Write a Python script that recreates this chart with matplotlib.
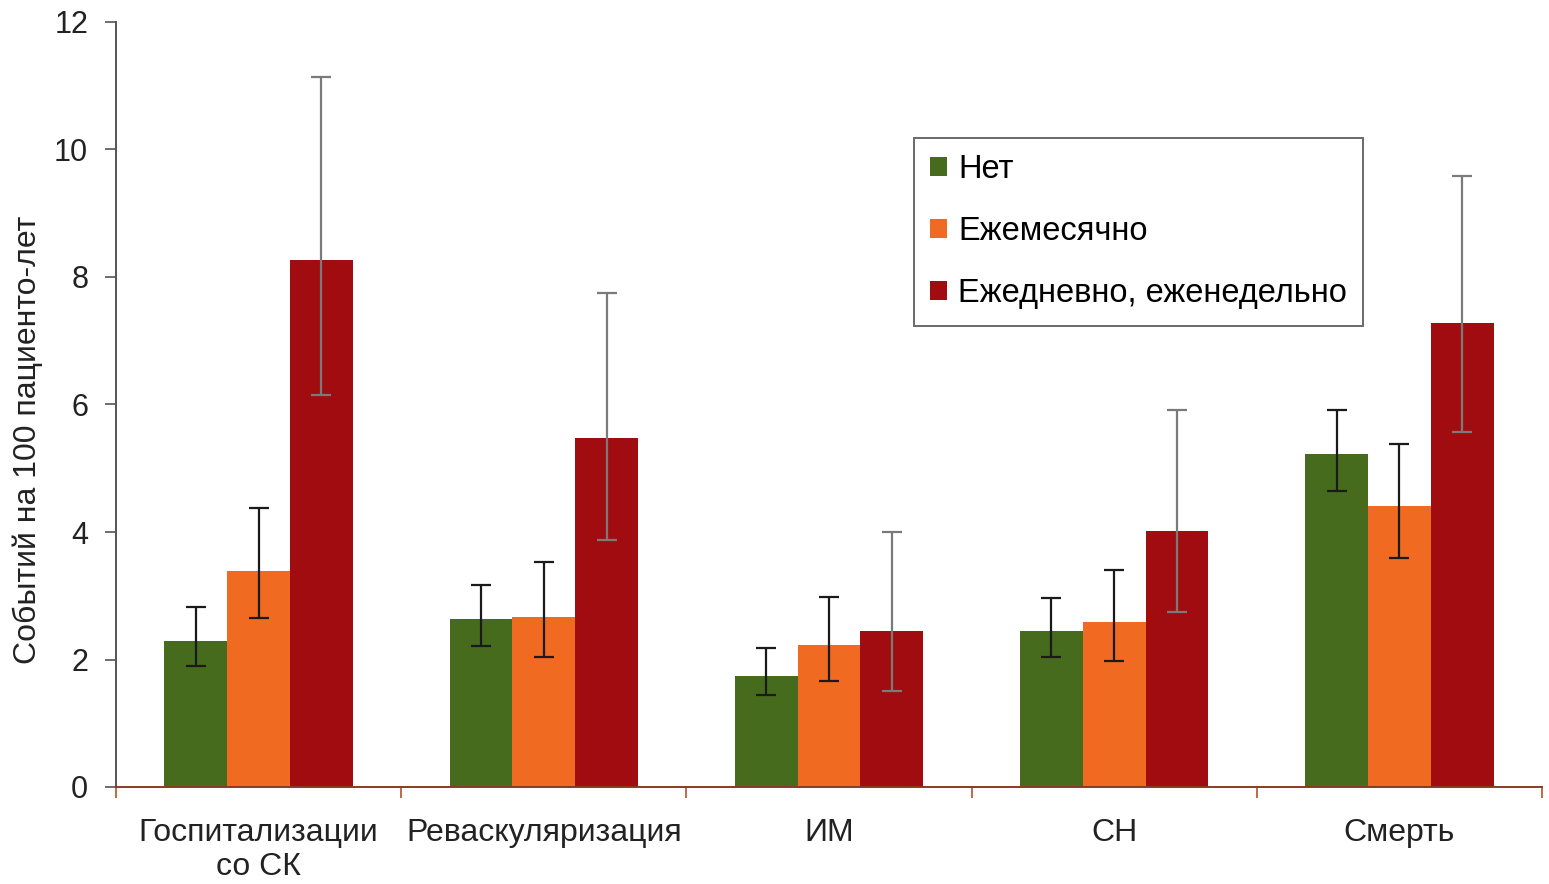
import matplotlib
matplotlib.use("Agg")
import matplotlib.pyplot as plt
import numpy as np

plt.rcParams['font.family'] = ['Liberation Sans', 'DejaVu Sans']

categories = ["Госпитализации\nсо СК", "Реваскуляризация", "ИМ", "СН", "Смерть"]
series_names = ["Нет", "Ежемесячно", "Ежедневно, еженедельно"]

net = [2.29, 2.64, 1.74, 2.45, 5.22]
net_lo = [1.90, 2.21, 1.44, 2.04, 4.64]
net_hi = [2.82, 3.17, 2.18, 2.96, 5.92]

month = [3.39, 2.67, 2.23, 2.59, 4.41]
month_lo = [2.65, 2.04, 1.66, 1.97, 3.60]
month_hi = [4.38, 3.53, 2.98, 3.40, 5.38]

daily = [8.27, 5.47, 2.45, 4.02, 7.28]
daily_lo = [6.15, 3.87, 1.51, 2.75, 5.57]
daily_hi = [11.14, 7.75, 4.00, 5.91, 9.58]

yticks = [0, 2, 4, 6, 8, 10, 12]
ylabel = "Событий на 100 пациенто-лет"

colors = ["#466b1c", "#f06a22", "#a00c10"]
err_colors = ["#1a1a1a", "#1a1a1a", "#7a7a7a"]

fig = plt.figure(figsize=(15.49, 8.84), dpi=100)
ax = fig.add_axes([116/1549, 1-787/884, (1542-116)/1549, 765/884])

x = np.arange(len(categories))
w = 0.22
vals = [net, month, daily]
los = [net_lo, month_lo, daily_lo]
his = [net_hi, month_hi, daily_hi]
for i, (v, lo, hi) in enumerate(zip(vals, los, his)):
    v = np.array(v); lo = np.array(lo); hi = np.array(hi)
    pos = x + (i - 1) * w
    ax.bar(pos, v, width=w, color=colors[i], label=series_names[i], zorder=2)
    ax.errorbar(pos, v, yerr=[v - lo, hi - v], fmt='none', ecolor=err_colors[i],
                elinewidth=1.6, capsize=7, capthick=1.6, zorder=3)

ax.set_xlim(-0.5, len(categories) - 0.5)
ax.set_ylim(0, 12)
ax.set_yticks(yticks)
ax.set_yticklabels([str(t) for t in yticks])
ax.tick_params(axis='y', direction='out', length=8, width=1.2, color='#555555',
               labelsize=22, pad=12, labelcolor='#222222')

ax.set_xticks(np.arange(len(categories) + 1) - 0.5)
ax.set_xticklabels([])
ax.tick_params(axis='x', which='major', direction='out', length=8, width=1.2, color='#b5502a')
ax.set_xticks(x, minor=True)
ax.set_xticklabels(categories, minor=True, fontsize=23, color='#222222')
ax.tick_params(axis='x', which='minor', length=0, pad=22)

for s in ['top', 'right']:
    ax.spines[s].set_visible(False)
ax.spines['left'].set_color('#555555')
ax.spines['left'].set_linewidth(1.4)
ax.spines['bottom'].set_color('#8a3a22')
ax.spines['bottom'].set_linewidth(1.4)

ax.set_ylabel(ylabel, fontsize=23, color='#222222')
ax.yaxis.set_label_coords(-0.051, 0.454)

leg = ax.legend(loc='upper left', bbox_to_anchor=(914/1549, 1-138/884),
                bbox_transform=fig.transFigure, fontsize=23.5, frameon=True,
                fancybox=False, edgecolor='#444444', handlelength=0.5,
                handleheight=0.5, handletextpad=0.35, labelspacing=0.95,
                borderpad=0.5, borderaxespad=0)
leg.get_frame().set_linewidth(1.4)

fig.savefig("out.png", dpi=100)
